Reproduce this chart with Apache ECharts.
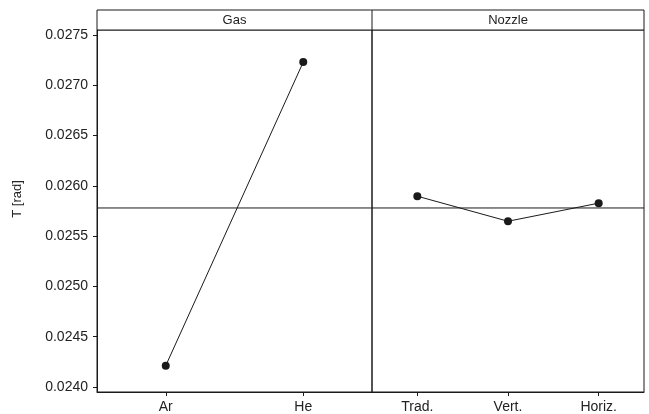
<!DOCTYPE html>
<html>
<head>
<meta charset="utf-8">
<script src="https://cdn.jsdelivr.net/npm/echarts@6/dist/echarts.min.js"></script>
<style>
  html, body { margin: 0; padding: 0; background: #fff; }
  #main { width: 649px; height: 414px; }
</style>
</head>
<body>
<div id="main"></div>
<script>
// Main-effects plot of T [rad] for two factors
const gasLevels = ['Ar', 'He'];
const gasMeans = [0.024212, 0.027231];
const nozzleLevels = ['Trad.', 'Vert.', 'Horiz.'];
const nozzleMeans = [0.025897, 0.025648, 0.025828];
const grandMean = 0.02578;
const yTicks = [0.0240, 0.0245, 0.0250, 0.0255, 0.0260, 0.0265, 0.0270, 0.0275];
const panelTitles = ['Gas', 'Nozzle'];
const yName = 'T [rad]';
const yMin = 0.02395;
const yMax = 0.02755;

const ink = '#1a1a1a';
const font = 'Liberation Sans, Arial, sans-serif';

const chart = echarts.init(document.getElementById('main'), null, { renderer: 'canvas' });

const L = 97, MID = 372, R = 644, TOP = 30, BOT = 392, HEAD = 10;

function xAxisFor(idx, cats) {
  return {
    type: 'category',
    gridIndex: idx,
    data: cats,
    boundaryGap: true,
    axisLine: { show: true, lineStyle: { color: ink, width: 1 } },
    axisTick: { show: true, alignWithLabel: true, length: 4, lineStyle: { color: ink } },
    axisLabel: { color: '#222', fontFamily: font, fontSize: 14, margin: 8 },
    splitLine: { show: false }
  };
}

function yAxisFor(idx, visible) {
  return {
    type: 'value',
    gridIndex: idx,
    min: yMin,
    max: yMax,
    show: visible,
    name: visible ? yName : '',
    nameLocation: 'middle',
    nameGap: 73,
    nameTextStyle: { color: '#222', fontFamily: font, fontSize: 13, padding: [0, 0, 0, 24] },
    axisLine: { show: true, lineStyle: { color: ink, width: 1 } },
    axisTick: { show: true, length: 4, customValues: yTicks, lineStyle: { color: ink } },
    axisLabel: {
      color: '#222', fontFamily: font, fontSize: 14, margin: 9,
      customValues: yTicks,
      formatter: v => v.toFixed(4)
    },
    splitLine: { show: false }
  };
}

function effectSeries(idx, values) {
  return {
    type: 'line',
    xAxisIndex: idx,
    yAxisIndex: idx,
    data: values,
    symbol: 'circle',
    symbolSize: 8,
    itemStyle: { color: ink },
    lineStyle: { color: ink, width: 1 },
    z: 3
  };
}

chart.setOption({
  backgroundColor: '#fff',
  animation: false,
  grid: [
    { left: L, right: 649 - MID, top: TOP, bottom: 414 - BOT, show: true, borderColor: ink, borderWidth: 1 },
    { left: MID, right: 649 - R, top: TOP, bottom: 414 - BOT, show: true, borderColor: ink, borderWidth: 1 },
    // overlay spanning both panels, used for the grand-mean reference line
    { left: L, right: 649 - R, top: TOP, bottom: 414 - BOT, show: false }
  ],
  xAxis: [
    xAxisFor(0, gasLevels),
    xAxisFor(1, nozzleLevels),
    { type: 'value', gridIndex: 2, min: 0, max: 1, show: false }
  ],
  yAxis: [
    yAxisFor(0, true),
    yAxisFor(1, false),
    { type: 'value', gridIndex: 2, min: yMin, max: yMax, show: false }
  ],
  series: [
    effectSeries(0, gasMeans),
    effectSeries(1, nozzleMeans),
    {
      type: 'line',
      xAxisIndex: 2,
      yAxisIndex: 2,
      data: [[0, grandMean], [1, grandMean]],
      symbol: 'none',
      lineStyle: { color: ink, width: 1 },
      silent: true,
      z: 2
    }
  ],
  graphic: [
    {
      type: 'rect',
      shape: { x: L, y: HEAD, width: R - L, height: TOP - HEAD },
      style: { fill: '#fff', stroke: ink, lineWidth: 1 }
    },
    {
      type: 'line',
      shape: { x1: MID, y1: HEAD, x2: MID, y2: TOP },
      style: { stroke: ink, lineWidth: 1 }
    },
    {
      type: 'text',
      x: (L + MID) / 2, y: (HEAD + TOP) / 2,
      style: { text: panelTitles[0], fill: '#222', font: '13px ' + font, align: 'center', verticalAlign: 'middle' }
    },
    {
      type: 'text',
      x: (MID + R) / 2, y: (HEAD + TOP) / 2,
      style: { text: panelTitles[1], fill: '#222', font: '13px ' + font, align: 'center', verticalAlign: 'middle' }
    }
  ]
});
</script>
</body>
</html>
